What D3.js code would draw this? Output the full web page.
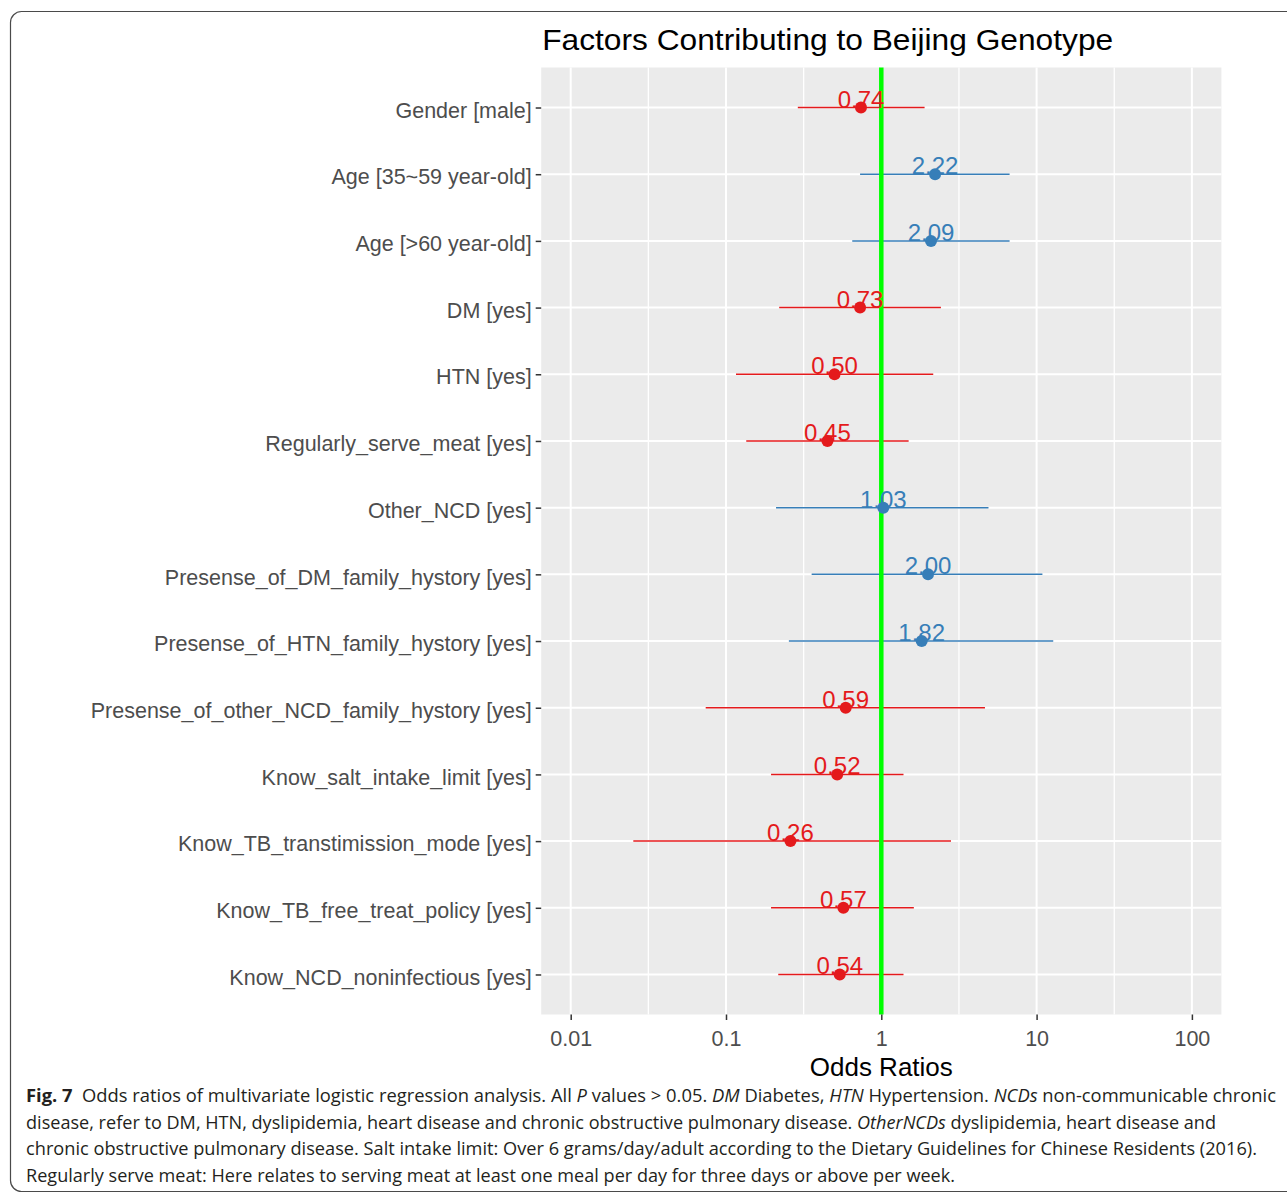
<!DOCTYPE html>
<html>
<head>
<meta charset="utf-8">
<script src="https://cdn.jsdelivr.net/npm/d3@7"></script>
<style>
  html, body { margin: 0; padding: 0; background: #ffffff; }
  svg { display: block; }
</style>
</head>
<body>
<svg id="chart" width="1287" height="1198"></svg>
<script>
// ---- Data ----
const categories = [
  "Gender [male]",
  "Age [35~59 year-old]",
  "Age [>60 year-old]",
  "DM [yes]",
  "HTN [yes]",
  "Regularly_serve_meat [yes]",
  "Other_NCD [yes]",
  "Presense_of_DM_family_hystory [yes]",
  "Presense_of_HTN_family_hystory [yes]",
  "Presense_of_other_NCD_family_hystory [yes]",
  "Know_salt_intake_limit [yes]",
  "Know_TB_transtimission_mode [yes]",
  "Know_TB_free_treat_policy [yes]",
  "Know_NCD_noninfectious [yes]"
];
const estimates = [0.74, 2.22, 2.09, 0.73, 0.50, 0.45, 1.03, 2.00, 1.82, 0.59, 0.52, 0.26, 0.57, 0.54];
const estimateLabels = ["0.74", "2.22", "2.09", "0.73", "0.50", "0.45", "1.03", "2.00", "1.82", "0.59", "0.52", "0.26", "0.57", "0.54"];
const ciLower = [0.29, 0.73, 0.65, 0.22, 0.116, 0.135, 0.21, 0.356, 0.254, 0.074, 0.195, 0.0253, 0.195, 0.217];
const ciUpper = [1.90, 6.7, 6.7, 2.42, 2.16, 1.50, 4.9, 10.9, 12.8, 4.65, 1.39, 2.81, 1.62, 1.39];
const xTickValues = [0.01, 0.1, 1, 10, 100];
const xTickLabels = ["0.01", "0.1", "1", "10", "100"];
const titleText = "Factors Contributing to Beijing Genotype";
const xAxisTitle = "Odds Ratios";

// ---- Layout ----
const svg = d3.select("#chart");
const panel = { left: 541.2, right: 1221.4, top: 67.5, bottom: 1014.5 };
const colorDown = "#E41A1C", colorUp = "#377EB8";
const chartFont = "'Liberation Sans', Arial, sans-serif";

// outer figure frame
svg.append("rect")
  .attr("x", 10.5).attr("y", 11.5)
  .attr("width", 1320).attr("height", 1180)
  .attr("rx", 11).attr("ry", 11)
  .attr("fill", "none").attr("stroke", "#4a4a4a").attr("stroke-width", 1.2);

const xSpan = 2.19;
const x = d3.scaleLog()
  .domain([Math.pow(10, -xSpan), Math.pow(10, xSpan)])
  .range([panel.left, panel.right]);

const y = d3.scalePoint()
  .domain(categories)
  .range([panel.top, panel.bottom])
  .padding(0.6);

// panel background
svg.append("rect")
  .attr("x", panel.left).attr("y", panel.top)
  .attr("width", panel.right - panel.left).attr("height", panel.bottom - panel.top)
  .attr("fill", "#EBEBEB");

// minor vertical grid (half-decades)
const minorBreaks = [-1.5, -0.5, 0.5, 1.5].map(e => Math.pow(10, e));
svg.append("g").selectAll("line").data(minorBreaks).join("line")
  .attr("x1", d => x(d)).attr("x2", d => x(d))
  .attr("y1", panel.top).attr("y2", panel.bottom)
  .attr("stroke", "#ffffff").attr("stroke-width", 1.3);

// major vertical grid
svg.append("g").selectAll("line").data(xTickValues).join("line")
  .attr("x1", d => x(d)).attr("x2", d => x(d))
  .attr("y1", panel.top).attr("y2", panel.bottom)
  .attr("stroke", "#ffffff").attr("stroke-width", 2);

// horizontal grid
svg.append("g").selectAll("line").data(categories).join("line")
  .attr("x1", panel.left).attr("x2", panel.right)
  .attr("y1", d => y(d)).attr("y2", d => y(d))
  .attr("stroke", "#ffffff").attr("stroke-width", 2);

const rows = categories.map((c, i) => ({
  cat: c, est: estimates[i], lab: estimateLabels[i], lo: ciLower[i], hi: ciUpper[i],
  col: estimates[i] < 1 ? colorDown : colorUp
}));

// error bars
svg.append("g").selectAll("line").data(rows).join("line")
  .attr("x1", d => x(d.lo)).attr("x2", d => x(d.hi))
  .attr("y1", d => y(d.cat)).attr("y2", d => y(d.cat))
  .attr("stroke", d => d.col).attr("stroke-width", 1.5);

// reference line at OR = 1
svg.append("line")
  .attr("x1", x(1)).attr("x2", x(1))
  .attr("y1", panel.top).attr("y2", panel.bottom)
  .attr("stroke", "#00FF00").attr("stroke-width", 4.5);

// points
svg.append("g").selectAll("circle").data(rows).join("circle")
  .attr("cx", d => x(d.est)).attr("cy", d => y(d.cat))
  .attr("r", 6).attr("fill", d => d.col);

// value labels
svg.append("g").selectAll("text").data(rows).join("text")
  .attr("x", d => x(d.est)).attr("y", d => y(d.cat))
  .attr("text-anchor", "middle")
  .attr("font-family", chartFont).attr("font-size", 24)
  .attr("fill", d => d.col)
  .text(d => d.lab);

// y axis
const yAxis = svg.append("g").attr("transform", `translate(${panel.left},0)`)
  .call(d3.axisLeft(y).tickSize(5.5).tickPadding(4));
yAxis.select(".domain").remove();
yAxis.selectAll(".tick line").attr("stroke", "#333333").attr("stroke-width", 1.5);
yAxis.selectAll(".tick text")
  .attr("font-family", chartFont).attr("font-size", 21.5)
  .attr("fill", "#4D4D4D").attr("dy", "0.45em");

// x axis
const xAxis = svg.append("g").attr("transform", `translate(0,${panel.bottom})`)
  .call(d3.axisBottom(x).tickValues(xTickValues)
    .tickFormat((d, i) => xTickLabels[i]).tickSize(5.5).tickPadding(11));
xAxis.select(".domain").remove();
xAxis.selectAll(".tick line").attr("stroke", "#333333").attr("stroke-width", 1.5);
xAxis.selectAll(".tick text")
  .attr("font-family", chartFont).attr("font-size", 21.5)
  .attr("fill", "#4D4D4D").attr("dy", "0.71em");

// axis title
svg.append("text")
  .attr("x", (panel.left + panel.right) / 2).attr("y", 1076)
  .attr("text-anchor", "middle")
  .attr("font-family", chartFont).attr("font-size", 26)
  .attr("fill", "#000000")
  .text(xAxisTitle);

// chart title
svg.append("text")
  .attr("x", panel.left + 1).attr("y", 49.5)
  .attr("font-family", chartFont).attr("font-size", 30)
  .attr("textLength", 571).attr("lengthAdjust", "spacingAndGlyphs")
  .attr("fill", "#000000")
  .text(titleText);

// ---- Caption ----
const captionLines = [
  [["b", "Fig. 7"], ["n", "  Odds ratios of multivariate logistic regression analysis. All "], ["i", "P"], ["n", " values > 0.05. "], ["i", "DM"], ["n", " Diabetes, "], ["i", "HTN"], ["n", " Hypertension. "], ["i", "NCDs"], ["n", " non-communicable chronic"]],
  [["n", "disease, refer to DM, HTN, dyslipidemia, heart disease and chronic obstructive pulmonary disease. "], ["i", "OtherNCDs"], ["n", " dyslipidemia, heart disease and"]],
  [["n", "chronic obstructive pulmonary disease. Salt intake limit: Over 6 grams/day/adult according to the Dietary Guidelines for Chinese Residents (2016)."]],
  [["n", "Regularly serve meat: Here relates to serving meat at least one meal per day for three days or above per week."]]
];
const captionWidths = [1250, 1190, 1231, 929];
const captionBaselines = [1102, 1128.5, 1155, 1181.5];

captionLines.forEach((parts, i) => {
  const t = svg.append("text")
    .attr("x", 26).attr("y", captionBaselines[i])
    .attr("font-family", "'Open Sans', 'Noto Sans', sans-serif")
    .attr("font-size", 17.5)
    .attr("fill", "#231F20")
    .attr("textLength", captionWidths[i])
    .attr("lengthAdjust", "spacingAndGlyphs")
    .style("white-space", "pre");
  parts.forEach(([kind, txt]) => {
    const s = t.append("tspan").text(txt);
    if (kind === "b") s.attr("font-weight", "bold");
    if (kind === "i") s.attr("font-style", "italic");
  });
});
</script>
</body>
</html>
